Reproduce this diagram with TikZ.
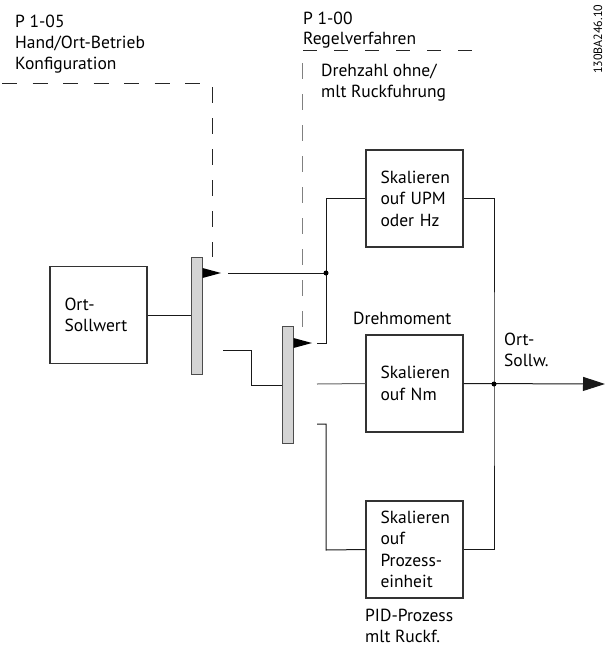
\documentclass[tikz,border=0pt]{standalone}
\usepackage{fontspec}
\setmainfont{PT Sans}
\usetikzlibrary{arrows.meta}
\tikzset{
  lbl/.style={anchor=base west, inner sep=0pt, font=\fontsize{17.5}{21.5}\selectfont, align=left},
  blk/.style={draw=black!80, line width=1.1pt, minimum width=97pt, minimum height=97pt, text width=68pt, inner xsep=14.5pt, inner ysep=0pt, align=left, font=\fontsize{17.5}{21.5}\selectfont},
  bar/.style={draw=black!70, fill=black!17, line width=1pt, minimum width=11pt, minimum height=117pt, inner sep=0pt},
  wire/.style={line width=1pt, draw=black!90},
  gwire/.style={line width=1pt, draw=black!60},
  ctl/.style={line width=1pt, draw=black!85, dash pattern=on 15pt off 15.5pt},
  gctl/.style={line width=1pt, draw=black!50, dash pattern=on 16pt off 15pt},
  tip/.style={fill=black},
  dot/.style={circle, fill=black, inner sep=0pt, minimum size=5pt}
}
\begin{document}
\begin{tikzpicture}[x=1pt,y=-1pt]
\useasboundingbox (0,0) rectangle (605,646);
% texts
\node[lbl] (t105) at (15,27) {P 1-05};
\node[lbl] (t105b) at (15,48) {Hand/Ort-Betrieb};
\node[lbl] (t105c) at (15,69) {Konfiguration};
\node[lbl] (t100) at (303,24) {P 1-00};
\node[lbl] (t100b) at (303,44) {Regelverfahren};
\node[lbl] (tdz) at (321,76) {Drehzahl ohne/};
\node[lbl] (tdzb) at (321,97) {mlt Ruckfuhrung};
\node[lbl] (tdm) at (353,324) {Drehmoment};
\node[lbl] (tos) at (504,345) {Ort-};
\node[lbl] (tosb) at (504,366) {Sollw.};
\node[lbl] (tpid) at (365,621) {PID-Prozess};
\node[lbl] (tpidb) at (365,642) {mlt Ruckf.};
\node[anchor=base west, inner sep=0pt, rotate=90, font=\fontsize{12}{12}\selectfont] (code) at (602,74) {130BA246.10};
% dashed control lines
\draw[ctl] (2,83) -- (200,83);
\draw[ctl, dash pattern=on 16pt off 15pt] (212,87) -- (212,257);
\draw[ctl, dash pattern=on 14pt off 17pt] (303,50) -- (473,50);
\draw[gctl] (302,63) -- (302,327);
% blocks
\node[blk] (ort) at (98.5,315) {Ort-\\Sollwert};
\node[blk] (upm) at (414.5,198.5) {Skalieren\\ouf UPM\\oder Hz};
\node[blk] (nm) at (414.5,383.5) {Skalieren\\ouf Nm};
\node[blk] (pz) at (414.5,549.5) {Skalieren\\ouf\\Prozess-\\einheit};
% bars
\node[bar] (b1) at (196.5,315.5) {};
\node[bar] (b2) at (287.5,384.5) {};
% coordinates
\coordinate (j1) at (326,273);
\coordinate (o1) at (228,273);
\coordinate (o2) at (223,350);
\coordinate (i2) at (317,343);
\coordinate (i3) at (317,384);
\coordinate (i4) at (317,424);
\coordinate (j2) at (494,384);
\coordinate (out) at (605,384);
% switch tips
\fill[tip] (b1.east |- 0,268) -- (221,273) -- (b1.east |- 0,278) -- cycle;
\fill[tip] (b2.east |- 0,338) -- (312,343) -- (b2.east |- 0,348) -- cycle;
% wires
\draw[wire] (ort.east) -- (ort.east -| b1.west);
\draw[wire] (o1) -- (j1);
\draw[wire] (j1) |- (upm.west);
\draw[wire] (j1) |- (i2);
\draw[wire] (o2) -| (251,385) -- (b2.west |- 0,385);
\draw[gwire] (i3) -- (nm.west);
\draw[wire] (i4) -| (326,550) -- (pz.west);
\draw[wire] (upm.east) -| (j2) |- (pz.east);
\draw[wire, -{Triangle[length=22pt,width=14pt]}] (nm.east) -- (out);
\node[dot] (d1) at (j1) {};
\node[dot] (d2) at (j2) {};
\end{tikzpicture}
\end{document}
